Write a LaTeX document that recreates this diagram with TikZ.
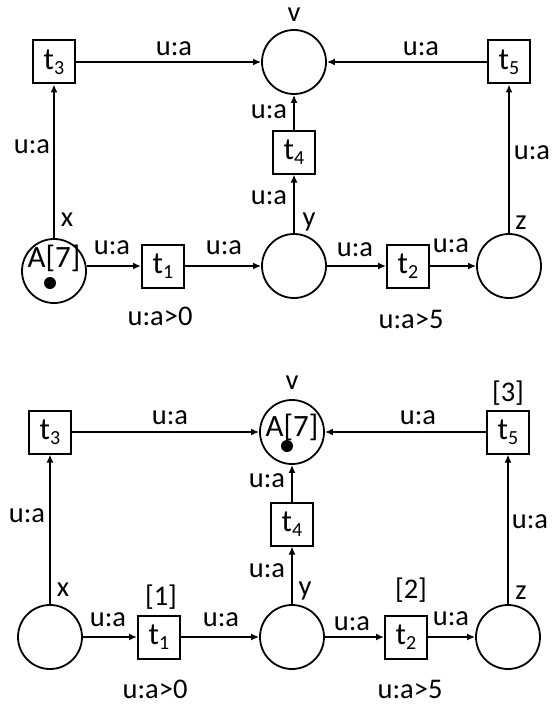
\documentclass[tikz,border=0pt]{standalone}
\usepackage{fontspec}
\setmainfont{Carlito}
\usetikzlibrary{arrows.meta}
\newcommand\tsub[2]{#1\raisebox{-5pt}{\fontsize{20}{20}\selectfont #2}}
\begin{document}
\begin{tikzpicture}[x=1pt,y=-1pt,
  place/.style={circle,draw,line width=1.8pt,minimum size=64pt,inner sep=0pt},
  trans/.style={rectangle,draw,line width=2pt,minimum width=42pt,minimum height=43pt,inner sep=0pt,font=\fontsize{31}{31}\selectfont},
  lbl/.style={inner sep=0pt,font=\fontsize{28.5}{28.5}\selectfont},
  biglbl/.style={inner sep=0pt,font=\fontsize{31}{31}\selectfont},
  tok/.style={circle,fill,inner sep=0pt,minimum size=12pt},
  arc/.style={line width=1.8pt,-{Latex[length=8pt,width=7pt]}},
]
\useasboundingbox (0,0) rectangle (552,706);
% ---------- top net ----------
\node[place] (A1) at (54,271) {};
\node[biglbl] (A1t) at (54,258) {A[7]};
\node[tok] (A1d) at (50,283) {};
\node[trans] (t31) at (54,62) {\tsub{t}{3}};
\node[place] (v1) at (294,62) {};
\node[trans] (t51) at (509,62) {\tsub{t}{5}};
\node[trans] (t41) at (294,152) {\tsub{t}{4}};
\node[trans] (t11) at (163,266) {\tsub{t}{1}};
\node[place] (y1) at (294,266) {};
\node[trans] (t21) at (408,266) {\tsub{t}{2}};
\node[place] (z1) at (509,266) {};
\draw[arc] (A1) -- (t31);
\draw[arc] (t31) -- (v1);
\draw[arc] (t51) -- (v1);
\draw[arc] (y1) -- (t41);
\draw[arc] (t41) -- (v1);
\draw[arc] (t11 -| A1.east) -- (t11);
\draw[arc] (t11) -- (y1);
\draw[arc] (y1) -- (t21);
\draw[arc] (t21) -- (z1);
\draw[arc] (z1) -- (t51);
\node[lbl] (l1a) at (294,15) {v};
\node[lbl] (l1b) at (174,49) {u:a};
\node[lbl] (l1c) at (421,49) {u:a};
\node[lbl] (l1d) at (32,147) {u:a};
\node[lbl] (l1e) at (67,220) {x};
\node[lbl] (l1f) at (112,248) {u:a};
\node[lbl] (l1g) at (224,248) {u:a};
\node[lbl] (l1h) at (160,316) {u:a>0};
\node[lbl] (l1i) at (269,112) {u:a};
\node[lbl] (l1j) at (269,198) {u:a};
\node[lbl] (l1k) at (309,222) {y};
\node[lbl] (l1l) at (355,250) {u:a};
\node[lbl] (l1m) at (451,246) {u:a};
\node[lbl] (l1n) at (411,319) {u:a>5};
\node[lbl] (l1o) at (532,153) {u:a};
\node[lbl] (l1p) at (521,223) {z};
% ---------- bottom net ----------
\node[place] (x2) at (50,637) {};
\node[trans] (t32) at (50,432) {\tsub{t}{3}};
\node[place] (v2) at (292,432) {};
\node[biglbl] (v2t) at (292,427) {A[7]};
\node[tok] (v2d) at (287,446) {};
\node[trans] (t52) at (508,432) {\tsub{t}{5}};
\node[trans] (t42) at (292,524) {\tsub{t}{4}};
\node[place] (y2) at (292,637) {};
\node[trans] (t12) at (159,637) {\tsub{t}{1}};
\node[trans] (t22) at (406,637) {\tsub{t}{2}};
\node[place] (z2) at (508,637) {};
\draw[arc] (x2) -- (t32);
\draw[arc] (t32) -- (v2);
\draw[arc] (t52) -- (v2);
\draw[arc] (y2) -- (t42);
\draw[arc] (t42) -- (v2);
\draw[arc] (x2) -- (t12);
\draw[arc] (t12) -- (y2);
\draw[arc] (y2) -- (t22);
\draw[arc] (t22) -- (z2);
\draw[arc] (z2) -- (t52);
\node[lbl] (l2a) at (292,383) {v};
\node[lbl] (l2b) at (508,393) {[3]};
\node[lbl] (l2c) at (170,418) {u:a};
\node[lbl] (l2d) at (418,418) {u:a};
\node[lbl] (l2e) at (27,516) {u:a};
\node[lbl] (l2f) at (267,481) {u:a};
\node[lbl] (l2g) at (267,571) {u:a};
\node[lbl] (l2h) at (63,590) {x};
\node[lbl] (l2i) at (161,597) {[1]};
\node[lbl] (l2j) at (108,620) {u:a};
\node[lbl] (l2k) at (221,620) {u:a};
\node[lbl] (l2l) at (155,689) {u:a>0};
\node[lbl] (l2m) at (305,591) {y};
\node[lbl] (l2n) at (411,590) {[2]};
\node[lbl] (l2o) at (352,624) {u:a};
\node[lbl] (l2p) at (451,619) {u:a};
\node[lbl] (l2q) at (521,593) {z};
\node[lbl] (l2r) at (410,689) {u:a>5};
\node[lbl] (l2s) at (530,522) {u:a};
\end{tikzpicture}
\end{document}
